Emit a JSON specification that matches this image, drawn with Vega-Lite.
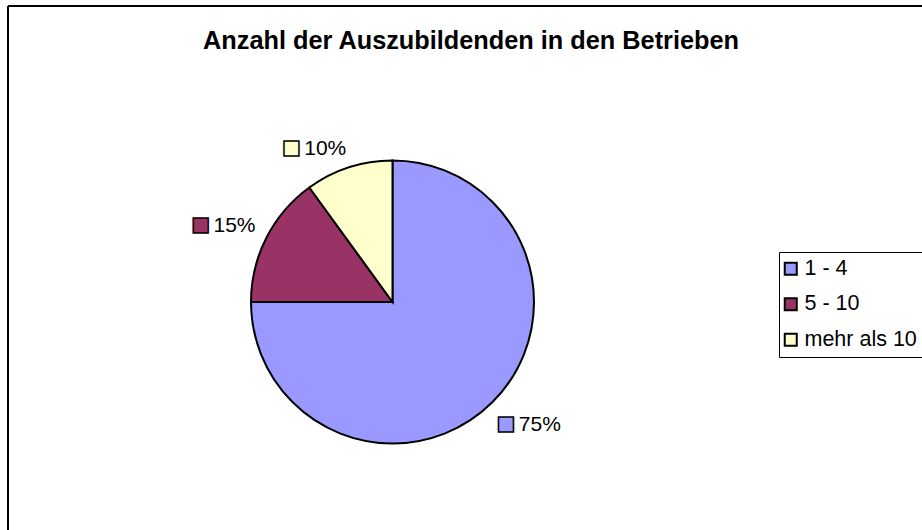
{
  "$schema": "https://vega.github.io/schema/vega-lite/v6.json",
  "autosize": {"type": "none"},
  "padding": {"left": 8, "top": 6, "right": 0, "bottom": 0},
  "width": 914,
  "height": 524,
  "background": "white",
  "view": {"stroke": "black", "strokeWidth": 2, "strokeDash": [914, 1438, 524, 0], "fill": "white"},
  "title": {
    "text": "Anzahl der Auszubildenden in den Betrieben",
    "font": "Liberation Sans",
    "fontSize": 25.3,
    "fontWeight": "bold",
    "color": "black",
    "anchor": "middle",
    "dx": 6,
    "baseline": "alphabetic",
    "offset": -68
  },
  "data": {
    "values": [
      {"k": "1 - 4", "v": 75, "label": "75%"},
      {"k": "5 - 10", "v": 15, "label": "15%"},
      {"k": "mehr als 10", "v": 10, "label": "10%"}
    ]
  },
  "encoding": {
    "theta": {"field": "v", "type": "quantitative", "stack": true},
    "order": {"field": "v", "type": "quantitative", "sort": "descending"}
  },
  "layer": [
    {
      "mark": {"type": "arc", "x": 384.5, "y": 296, "outerRadius": 141.5, "stroke": "black", "strokeWidth": 2},
      "encoding": {
        "color": {
          "field": "k",
          "type": "nominal",
          "scale": {"domain": ["1 - 4", "5 - 10", "mehr als 10"], "range": ["#9999FF", "#993366", "#FFFFCC"]},
          "legend": {
            "orient": "none",
            "legendX": 771,
            "legendY": 246,
            "title": null,
            "symbolType": "square",
            "symbolSize": 144,
            "symbolStrokeColor": "black",
            "symbolStrokeWidth": 2,
            "symbolOffset": -5,
            "labelFont": "Liberation Sans",
            "labelFontSize": 21.5,
            "labelColor": "black",
            "strokeColor": "black",
            "fillColor": "white",
            "padding": 6,
            "rowPadding": 12.5,
            "labelOffset": 3,
            "labelLimit": 400
          }
        }
      }
    },
    {
      "mark": {
        "type": "text",
        "x": 384.5,
        "y": 296,
        "radius": 156,
        "text": "■",
        "font": "Liberation Sans",
        "fontSize": 31,
        "stroke": "black",
        "strokeWidth": 1.5,
        "align": "center",
        "baseline": "middle",
        "dx": {"expr": "datum.v > 50 ? 3 : -53"},
        "dy": {"expr": "datum.v > 50 ? 13 : -5"}
      },
      "encoding": {
        "color": {"field": "k", "type": "nominal", "legend": null}
      }
    },
    {
      "mark": {
        "type": "text",
        "x": 384.5,
        "y": 296,
        "radius": 156,
        "font": "Liberation Sans",
        "fontSize": 21,
        "color": "black",
        "baseline": "middle",
        "align": {"expr": "datum.v > 50 ? 'left' : 'right'"},
        "dx": {"expr": "datum.v > 50 ? 16 : 2"},
        "dy": {"expr": "datum.v > 50 ? 13 : -5"}
      },
      "encoding": {
        "text": {"field": "label", "type": "nominal"},
        "detail": {"field": "k", "type": "nominal"}
      }
    }
  ]
}
